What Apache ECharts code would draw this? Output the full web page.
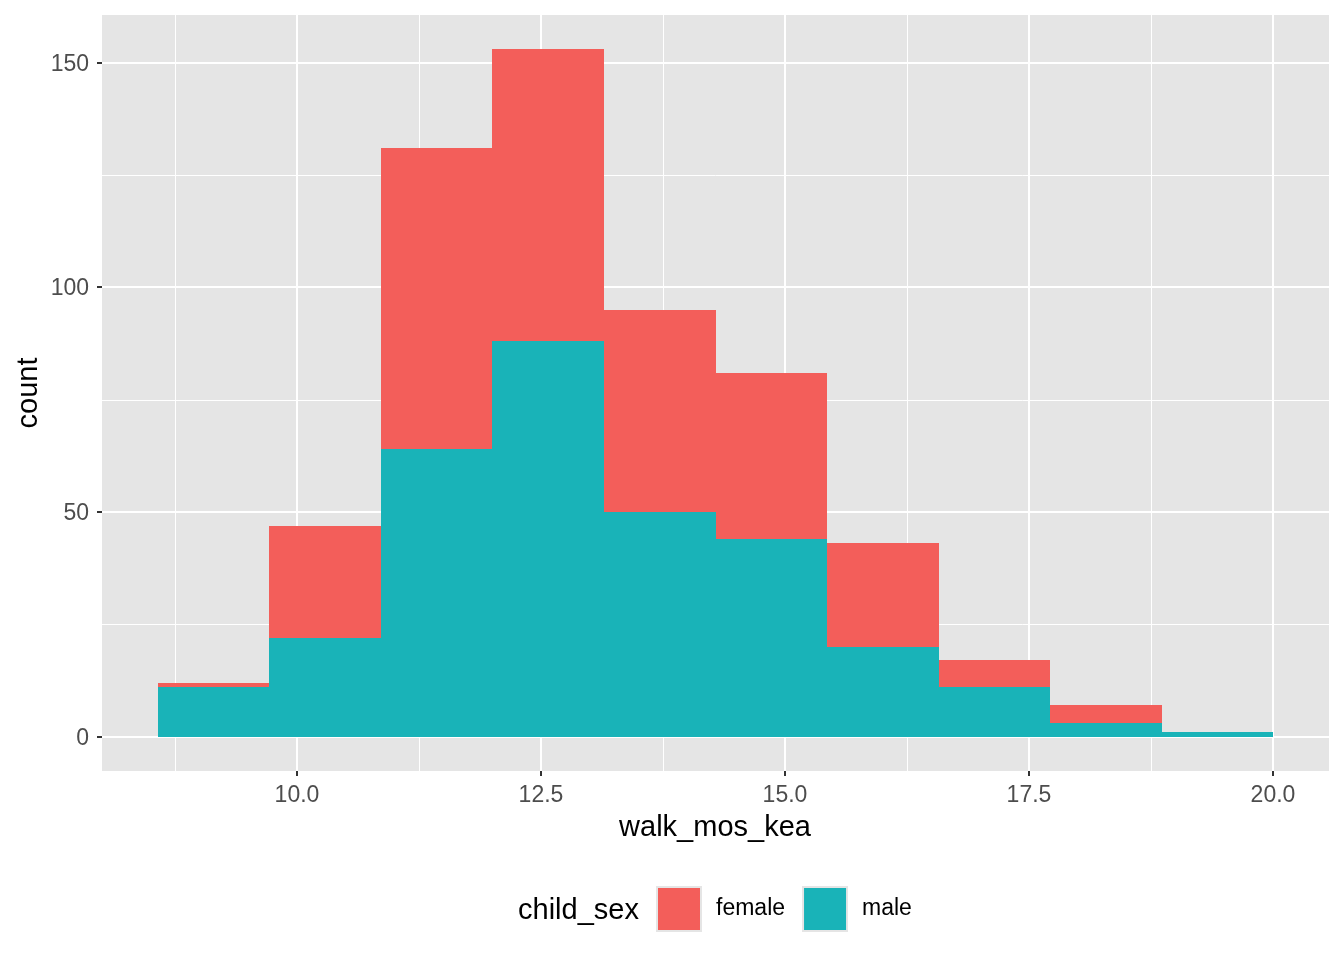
<!DOCTYPE html>
<html>
<head>
<meta charset="utf-8">
<script src="https://cdn.jsdelivr.net/npm/echarts@6/dist/echarts.min.js"></script>
<style>html,body{margin:0;padding:0;background:#fff}#c{width:1344px;height:960px}</style>
</head>
<body>
<div id="c"></div>
<script>
// ---- data ----
const binEdges = [8.571, 9.714, 10.857, 12.0, 13.143, 14.286, 15.429, 16.571, 17.714, 18.857, 20.0];
const maleCounts = [11, 22, 64, 88, 50, 44, 20, 11, 3, 1];
const femaleCounts = [1, 25, 67, 65, 45, 37, 23, 6, 4, 0];
const seriesNames = ['female', 'male'];
const xTicks = [10, 12.5, 15, 17.5, 20];
const xTickLabels = ['10.0', '12.5', '15.0', '17.5', '20.0'];
const xMinorTicks = [8.75, 11.25, 13.75, 16.25, 18.75];
const yTicks = [0, 50, 100, 150];
const yTickLabels = ['0', '50', '100', '150'];
const yMinorTicks = [25, 75, 125];

// ---- styles / ranges ----
const X_MIN = 8.0, X_MAX = 20.5714;
const Y_MIN = -7.65, Y_MAX = 160.65;
const FONT = "'Liberation Sans', Arial, Helvetica, sans-serif";
const FEMALE_COLOR = '#F35E5A';
const MALE_COLOR = '#19B3B8';

const maleData = binEdges.slice(0, -1).map((x0, i) => [x0, binEdges[i + 1], maleCounts[i]]);
const femaleData = binEdges.slice(0, -1).map((x0, i) => [x0, binEdges[i + 1], maleCounts[i], maleCounts[i] + femaleCounts[i]]);

const xLineData = xTicks.map(v => [v, 1]).concat(xMinorTicks.map(v => [v, 0]));
const yLineData = yTicks.map(v => [1, v]).concat(yMinorTicks.map(v => [0, v]));

function rectFrom(p0, p1, color) {
  const x0 = Math.round(p0[0]), x1 = Math.round(p1[0]);
  const y0 = Math.round(p0[1]), y1 = Math.round(p1[1]);
  return { type: 'rect', shape: { x: x0, y: Math.min(y0, y1), width: x1 - x0, height: Math.abs(y0 - y1) }, style: { fill: color, stroke: null, lineWidth: 0 } };
}

const chart = echarts.init(document.getElementById('c'));
chart.setOption({
  animation: false,
  backgroundColor: '#ffffff',
  grid: { left: 102, right: 15, top: 15, bottom: 189, show: true, backgroundColor: '#E5E5E5', borderWidth: 0 },
  xAxis: { type: 'value', min: X_MIN, max: X_MAX, show: false },
  yAxis: { type: 'value', min: Y_MIN, max: Y_MAX, show: false },
  legend: {
    left: 656, top: 886, orient: 'horizontal', padding: 0,
    itemWidth: 44, itemHeight: 44, itemGap: 17, icon: 'rect',
    selectedMode: false,
    itemStyle: { borderColor: '#E5E5E5', borderWidth: 2 },
    textStyle: { fontFamily: FONT, fontSize: 23, color: '#000', padding: [4, 0, 0, 10] },
    data: seriesNames
  },
  graphic: [
    { type: 'text', x: 715, y: 828, style: { text: 'walk_mos_kea', font: '29px ' + FONT, fill: '#000', textAlign: 'center', textVerticalAlign: 'middle', align: 'center', verticalAlign: 'middle' } },
    { type: 'text', x: 29, y: 393, rotation: Math.PI / 2, style: { text: 'count', font: '29px ' + FONT, fill: '#000', textAlign: 'center', textVerticalAlign: 'middle', align: 'center', verticalAlign: 'middle' } },
    { type: 'text', x: 518, y: 911, style: { text: 'child_sex', font: '29px ' + FONT, fill: '#000', textAlign: 'left', textVerticalAlign: 'middle', align: 'left', verticalAlign: 'middle' } }
  ],
  series: [
    {
      type: 'custom', z: 1, silent: true, clip: false,
      data: xLineData,
      renderItem: function (params, api) {
        const v = api.value(0), major = api.value(1);
        const a = api.coord([v, Y_MAX]), b = api.coord([v, Y_MIN]);
        const x = major ? Math.round(a[0]) : Math.round(a[0]) + 0.5;
        return { type: 'line', shape: { x1: x, y1: a[1], x2: x, y2: b[1] }, style: { stroke: '#ffffff', lineWidth: major ? 2 : 1 } };
      }
    },
    {
      type: 'custom', z: 1, silent: true, clip: false,
      data: yLineData,
      renderItem: function (params, api) {
        const major = api.value(0), v = api.value(1);
        const a = api.coord([X_MIN, v]), b = api.coord([X_MAX, v]);
        const y = major ? Math.round(a[1]) : Math.round(a[1]) + 0.5;
        return { type: 'line', shape: { x1: a[0], y1: y, x2: b[0], y2: y }, style: { stroke: '#ffffff', lineWidth: major ? 2 : 1 } };
      }
    },
    {
      name: 'male', type: 'custom', z: 2, clip: false,
      itemStyle: { color: MALE_COLOR },
      data: maleData,
      renderItem: function (params, api) {
        const p0 = api.coord([api.value(0), 0]);
        const p1 = api.coord([api.value(1), api.value(2)]);
        return rectFrom(p0, p1, MALE_COLOR);
      }
    },
    {
      name: 'female', type: 'custom', z: 2, clip: false,
      itemStyle: { color: FEMALE_COLOR },
      data: femaleData,
      renderItem: function (params, api) {
        const p0 = api.coord([api.value(0), api.value(2)]);
        const p1 = api.coord([api.value(1), api.value(3)]);
        return rectFrom(p0, p1, FEMALE_COLOR);
      }
    },
    {
      type: 'custom', z: 3, silent: true, clip: false,
      data: xTicks.map(v => [v, Y_MIN]),
      renderItem: function (params, api) {
        const p = api.coord([api.value(0), Y_MIN]);
        const x = Math.round(p[0]);
        return {
          type: 'group', children: [
            { type: 'line', shape: { x1: x, y1: p[1], x2: x, y2: p[1] + 5 }, style: { stroke: '#333333', lineWidth: 2 } },
            { type: 'text', style: { text: xTickLabels[params.dataIndex], x: x, y: p[1] + 25, font: '23px ' + FONT, fill: '#4D4D4D', align: 'center', verticalAlign: 'middle', textAlign: 'center', textVerticalAlign: 'middle' } }
          ]
        };
      }
    },
    {
      type: 'custom', z: 3, silent: true, clip: false,
      data: yTicks.map(v => [X_MIN, v]),
      renderItem: function (params, api) {
        const p = api.coord([X_MIN, api.value(1)]);
        const y = Math.round(p[1]);
        return {
          type: 'group', children: [
            { type: 'line', shape: { x1: p[0] - 5, y1: y, x2: p[0], y2: y }, style: { stroke: '#333333', lineWidth: 2 } },
            { type: 'text', style: { text: yTickLabels[params.dataIndex], x: p[0] - 13, y: y + 2, font: '23px ' + FONT, fill: '#4D4D4D', align: 'right', verticalAlign: 'middle', textAlign: 'right', textVerticalAlign: 'middle' } }
          ]
        };
      }
    }
  ]
});
</script>
</body>
</html>
